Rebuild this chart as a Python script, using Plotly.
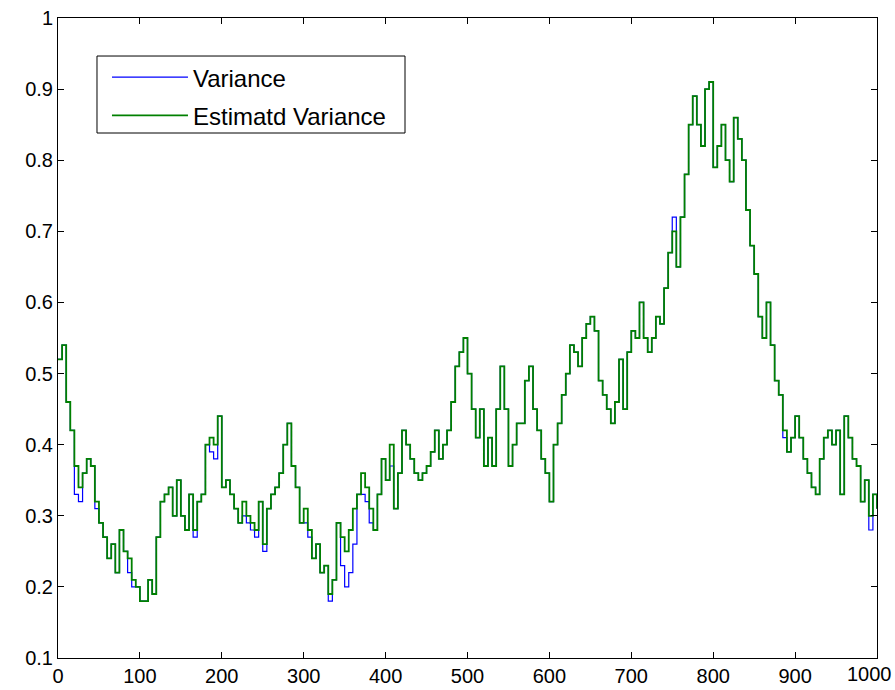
import plotly.graph_objects as go

# x positions (every 5 samples)
x_vals = list(range(0, 1001, 5))

variance = [
    0.52, 0.54, 0.46, 0.42, 0.33, 0.32, 0.36, 0.38, 0.37, 0.31, 0.29, 0.27, 0.24, 0.26, 0.22, 0.28, 0.25, 0.22, 0.20, 0.20,
    0.18, 0.18, 0.21, 0.19, 0.27, 0.32, 0.33, 0.34, 0.30, 0.35, 0.30, 0.28, 0.33, 0.27, 0.32, 0.33, 0.40, 0.39, 0.38, 0.44,
    0.34, 0.35, 0.33, 0.31, 0.29, 0.30, 0.29, 0.28, 0.27, 0.32, 0.25, 0.31, 0.33, 0.34, 0.36, 0.40, 0.43, 0.37, 0.34, 0.29,
    0.29, 0.27, 0.24, 0.26, 0.22, 0.23, 0.18, 0.21, 0.29, 0.23, 0.20, 0.22, 0.26, 0.33, 0.33, 0.32, 0.29, 0.28, 0.33, 0.38,
    0.35, 0.37, 0.31, 0.36, 0.42, 0.40, 0.38, 0.36, 0.35, 0.36, 0.37, 0.39, 0.42, 0.38, 0.40, 0.42, 0.46, 0.51, 0.53, 0.55,
    0.50, 0.45, 0.41, 0.45, 0.37, 0.41, 0.37, 0.45, 0.51, 0.45, 0.37, 0.40, 0.43, 0.43, 0.49, 0.51, 0.45, 0.42, 0.38, 0.36,
    0.32, 0.40, 0.43, 0.47, 0.50, 0.54, 0.53, 0.51, 0.55, 0.57, 0.58, 0.56, 0.49, 0.47, 0.45, 0.43, 0.46, 0.52, 0.45, 0.53,
    0.56, 0.55, 0.60, 0.55, 0.53, 0.55, 0.58, 0.57, 0.62, 0.67, 0.72, 0.65, 0.72, 0.78, 0.85, 0.89, 0.85, 0.82, 0.90, 0.91,
    0.79, 0.82, 0.85, 0.80, 0.77, 0.86, 0.83, 0.80, 0.73, 0.68, 0.64, 0.58, 0.55, 0.60, 0.54, 0.49, 0.47, 0.41, 0.39, 0.41,
    0.44, 0.41, 0.38, 0.36, 0.34, 0.33, 0.38, 0.41, 0.42, 0.40, 0.42, 0.33, 0.44, 0.41, 0.38, 0.37, 0.32, 0.35, 0.28, 0.33,
    0.31,
]

estimated_variance = [
    0.52, 0.54, 0.46, 0.42, 0.37, 0.34, 0.36, 0.38, 0.37, 0.32, 0.29, 0.27, 0.24, 0.26, 0.22, 0.28, 0.25, 0.24, 0.21, 0.20,
    0.18, 0.18, 0.21, 0.19, 0.27, 0.32, 0.33, 0.34, 0.30, 0.35, 0.30, 0.28, 0.33, 0.28, 0.32, 0.33, 0.40, 0.41, 0.40, 0.44,
    0.34, 0.35, 0.33, 0.31, 0.29, 0.32, 0.30, 0.29, 0.28, 0.32, 0.26, 0.31, 0.33, 0.34, 0.36, 0.40, 0.43, 0.37, 0.34, 0.29,
    0.31, 0.28, 0.24, 0.26, 0.22, 0.23, 0.19, 0.21, 0.29, 0.27, 0.25, 0.28, 0.31, 0.33, 0.36, 0.34, 0.31, 0.28, 0.33, 0.38,
    0.35, 0.40, 0.31, 0.36, 0.42, 0.40, 0.38, 0.36, 0.35, 0.36, 0.37, 0.39, 0.42, 0.38, 0.40, 0.42, 0.46, 0.51, 0.53, 0.55,
    0.50, 0.45, 0.41, 0.45, 0.37, 0.41, 0.37, 0.45, 0.51, 0.45, 0.37, 0.40, 0.43, 0.43, 0.49, 0.51, 0.45, 0.42, 0.38, 0.36,
    0.32, 0.40, 0.43, 0.47, 0.50, 0.54, 0.53, 0.51, 0.55, 0.57, 0.58, 0.56, 0.49, 0.47, 0.45, 0.43, 0.46, 0.52, 0.45, 0.53,
    0.56, 0.55, 0.60, 0.55, 0.53, 0.55, 0.58, 0.57, 0.62, 0.67, 0.70, 0.65, 0.72, 0.78, 0.85, 0.89, 0.85, 0.82, 0.90, 0.91,
    0.79, 0.82, 0.85, 0.80, 0.77, 0.86, 0.83, 0.80, 0.73, 0.68, 0.64, 0.58, 0.55, 0.60, 0.54, 0.49, 0.47, 0.42, 0.39, 0.41,
    0.44, 0.41, 0.38, 0.36, 0.34, 0.33, 0.38, 0.41, 0.42, 0.40, 0.42, 0.33, 0.44, 0.41, 0.38, 0.37, 0.32, 0.35, 0.30, 0.33,
    0.31,
]

x_tick_vals = [0, 100, 200, 300, 400, 500, 600, 700, 800, 900, 1000]
x_tick_text = ["0", "100", "200", "300", "400", "500", "600", "700", "800", "900", "1000"]
y_tick_vals = [0.1, 0.2, 0.3, 0.4, 0.5, 0.6, 0.7, 0.8, 0.9, 1.0]
y_tick_text = ["0.1", "0.2", "0.3", "0.4", "0.5", "0.6", "0.7", "0.8", "0.9", "1"]

FONT = "Liberation Sans, Arial, sans-serif"
TICK_FONT = dict(family=FONT, size=20, color="black")

fig = go.Figure()
fig.add_trace(go.Scatter(x=x_vals, y=variance, mode="lines", name="Variance",
                         line=dict(color="#0000ff", width=1.2, shape="hv"), legendgroup="a"))
fig.add_trace(go.Scatter(x=x_vals, y=estimated_variance, mode="lines", name="Estimatd Variance",
                         line=dict(color="#008000", width=1.8, shape="hv"), legendgroup="b"))

axis_common = dict(showline=True, linecolor="black", linewidth=1, mirror="ticks",
                   ticks="inside", ticklen=6, tickcolor="black", showgrid=False, zeroline=False,
                   automargin=False, tickfont=TICK_FONT)

# the last x label sits at the right edge of the page: draw it right-aligned so it stays whole
fig.update_xaxes(range=[0, 1000], tickvals=x_tick_vals,
                 ticktext=x_tick_text[:-1] + [""], **axis_common)
fig.update_yaxes(range=[0.1, 1.0], tickvals=y_tick_vals, ticktext=y_tick_text, **axis_common)
fig.add_annotation(x=x_tick_vals[-1], xref="x", y=0, yref="paper",
                   text=x_tick_text[-1], showarrow=False, font=TICK_FONT,
                   xanchor="right", yanchor="top", xshift=17, yshift=-3)

# legend frame (MATLAB style box)
fig.add_shape(type="rect", xref="paper", yref="paper",
              x0=0.0476, x1=0.4237, y0=0.8203, y1=0.9406,
              line=dict(color="black", width=1), fillcolor="white", layer="below")

fig.update_layout(
    width=895, height=690,
    margin=dict(l=58, r=18, t=18, b=32),
    paper_bgcolor="white", plot_bgcolor="white",
    font=dict(family=FONT, size=20, color="black"),
    legend=dict(x=0.0598, y=0.942, xanchor="left", yanchor="top",
                borderwidth=0, bgcolor="rgba(0,0,0,0)",
                itemwidth=76, traceorder="grouped", tracegroupgap=4,
                font=dict(family=FONT, size=24, color="black")),
)

fig.write_html("out.html")
